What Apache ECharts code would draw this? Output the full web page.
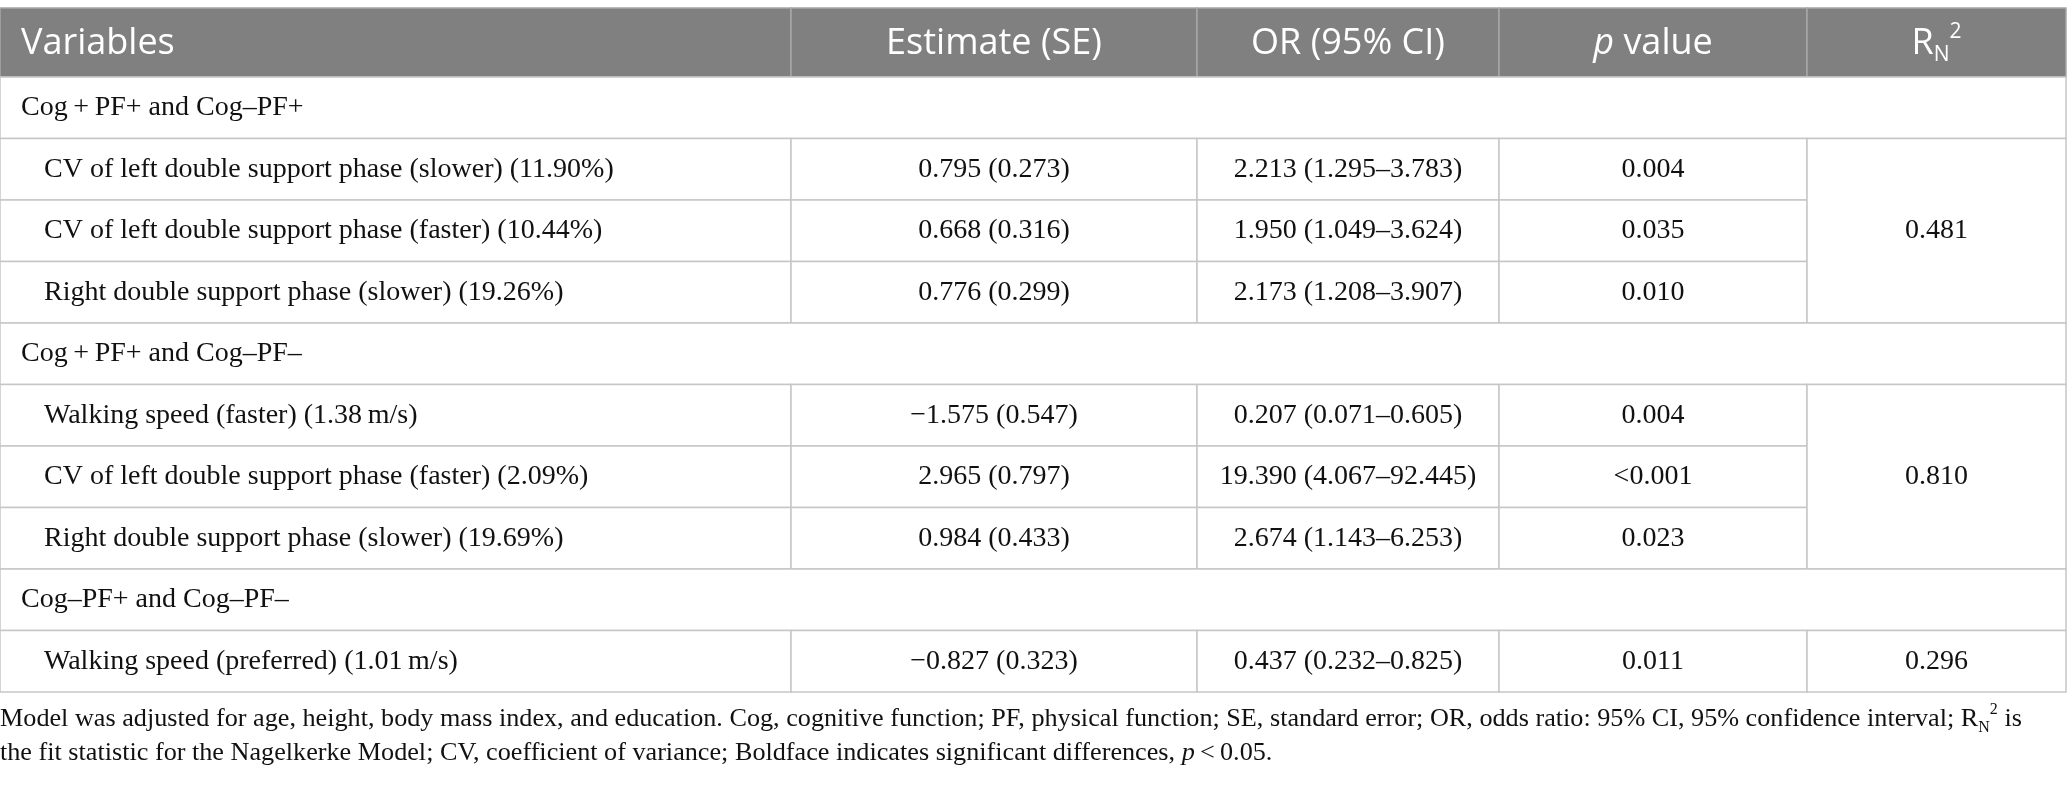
<!DOCTYPE html>
<html>
<head>
<meta charset="utf-8">
<script src="https://cdn.jsdelivr.net/npm/echarts@6/dist/echarts.min.js"></script>
<style>
  html, body { margin: 0; padding: 0; background: #fff; }
  #main { width: 2067px; height: 786px; }
</style>
</head>
<body>
<div id="main"></div>
<script>
// table content
var headerLabels = ['Variables', 'Estimate (SE)', 'OR (95% CI)', '{i|p} value', '{r|R}{sub|N}{sup|2}'];
var groupNames = ['Cog\u2009+\u2009PF+ and Cog\u2013PF+', 'Cog\u2009+\u2009PF+ and Cog\u2013PF\u2013', 'Cog\u2013PF+ and Cog\u2013PF\u2013'];
var variableNames = [
  'CV of left double support phase (slower) (11.90%)',
  'CV of left double support phase (faster) (10.44%)',
  'Right double support phase (slower) (19.26%)',
  'Walking speed (faster) (1.38\u2009m/s)',
  'CV of left double support phase (faster) (2.09%)',
  'Right double support phase (slower) (19.69%)',
  'Walking speed (preferred) (1.01\u2009m/s)'
];
var variableGroup = [0, 0, 0, 1, 1, 1, 2];
var estimateSE = ['0.795 (0.273)', '0.668 (0.316)', '0.776 (0.299)', '\u22121.575 (0.547)', '2.965 (0.797)', '0.984 (0.433)', '\u22120.827 (0.323)'];
var oddsRatioCI = ['2.213 (1.295\u20133.783)', '1.950 (1.049\u20133.624)', '2.173 (1.208\u20133.907)', '0.207 (0.071\u20130.605)', '19.390 (4.067\u201392.445)', '2.674 (1.143\u20136.253)', '0.437 (0.232\u20130.825)'];
var pValues = ['0.004', '0.035', '0.010', '0.004', '<0.001', '0.023', '0.011'];
var nagelkerkeR2 = ['0.481', '0.810', '0.296'];
var footnote = 'Model was adjusted for age, height, body mass index, and education. Cog, cognitive function; PF, physical function; SE, standard error; OR, odds ratio: 95% CI, 95% confidence interval; R{sub|N}{sup|2} is\n' +
  'the fit statistic for the Nagelkerke Model; CV, coefficient of variance; Boldface indicates significant differences, {i|p}\u2009<\u20090.05.';

// layout
var colEdges = [0, 791, 1197, 1499, 1807, 2066];
var serif = '"Liberation Serif", "DejaVu Serif", serif';
var sans = '"Open Sans", "Noto Sans", sans-serif';

// header cells: [c0, c1, r0, r1]
var headerCells = headerLabels.map(function (t, i) {
  return { value: [i, i + 1, 0, 1], text: t, align: i === 0 ? 'left' : 'center', indent: 21 };
});

// body cells
var bodyCells = [];
var row = 0;
groupNames.forEach(function (g, gi) {
  bodyCells.push({ value: [0, 5, row, row + 1], text: g, align: 'left', indent: 21 });
  row++;
  var start = row;
  variableNames.forEach(function (v, vi) {
    if (variableGroup[vi] !== gi) return;
    bodyCells.push({ value: [0, 1, row, row + 1], text: v, align: 'left', indent: 44 });
    bodyCells.push({ value: [1, 2, row, row + 1], text: estimateSE[vi], align: 'center' });
    bodyCells.push({ value: [2, 3, row, row + 1], text: oddsRatioCI[vi], align: 'center' });
    bodyCells.push({ value: [3, 4, row, row + 1], text: pValues[vi], align: 'center' });
    row++;
  });
  bodyCells.push({ value: [4, 5, start, row], text: nagelkerkeR2[gi], align: 'center' });
});
var rowCount = row;

function cellRenderer(cells, isHeader) {
  return function (params, api) {
    var c = cells[params.dataIndex];
    var p0 = api.coord([colEdges[c.value[0]], c.value[2]]);
    var p1 = api.coord([colEdges[c.value[1]], c.value[3]]);
    var x = Math.min(p0[0], p1[0]), y = Math.min(p0[1], p1[1]);
    var w = Math.abs(p1[0] - p0[0]), h = Math.abs(p1[1] - p0[1]);
    var tx = c.align === 'left' ? x + c.indent : x + w / 2;
    return {
      type: 'group',
      children: [{
        type: 'rect',
        shape: { x: x, y: y, width: w, height: h },
        style: {
          fill: isHeader ? '#808080' : '#fff',
          stroke: isHeader ? '#a6a6a6' : '#c6c6c6',
          lineWidth: 1.5
        }
      }, {
        type: 'text',
        style: {
          text: c.text,
          x: tx,
          y: y + h / 2 + (isHeader ? 1 : 0),
          align: c.align,
          verticalAlign: 'middle',
          fill: isHeader ? '#fff' : '#111',
          fontFamily: isHeader ? sans : serif,
          fontSize: isHeader ? 36 : 28,
          rich: isHeader ? {
            i: { fontStyle: 'italic', fontFamily: sans, fontSize: 36, fill: '#fff' },
            r: { fontFamily: sans, fontSize: 36, fill: '#fff', lineHeight: 44 },
            sub: { fontFamily: sans, fontSize: 21, fill: '#fff', lineHeight: 44, verticalAlign: 'bottom', padding: [16, 0, 0, 0] },
            sup: { fontFamily: sans, fontSize: 21, fill: '#fff', lineHeight: 44, verticalAlign: 'top', padding: [0, 0, 16, 0] }
          } : null
        }
      }]
    };
  };
}

var chart = echarts.init(document.getElementById('main'));
chart.setOption({
  backgroundColor: '#fff',
  animation: false,
  title: {
    text: footnote,
    left: 0,
    top: 702,
    padding: 0,
    textStyle: {
      fontFamily: serif,
      fontSize: 26.2,
      fontWeight: 'normal',
      color: '#111',
      lineHeight: 34,
      rich: {
        i: { fontStyle: 'italic', fontFamily: serif, fontSize: 26.2, color: '#111', lineHeight: 34 },
        sub: { fontFamily: serif, fontSize: 16, color: '#111', lineHeight: 34, verticalAlign: 'bottom', padding: [10, 0, 0, 0] },
        sup: { fontFamily: serif, fontSize: 16, color: '#111', lineHeight: 34, verticalAlign: 'top', padding: [0, 0, 8, 0] }
      }
    }
  },
  grid: [
    { left: 0, width: 2067, top: 8, height: 69 },
    { left: 0, width: 2067, top: 77, height: 615 }
  ],
  xAxis: [
    { gridIndex: 0, type: 'value', min: 0, max: 2067, show: false },
    { gridIndex: 1, type: 'value', min: 0, max: 2067, show: false }
  ],
  yAxis: [
    { gridIndex: 0, type: 'value', min: 0, max: 1, inverse: true, show: false },
    { gridIndex: 1, type: 'value', min: 0, max: rowCount, inverse: true, show: false }
  ],
  series: [{
    type: 'custom',
    xAxisIndex: 0,
    yAxisIndex: 0,
    silent: true,
    renderItem: cellRenderer(headerCells, true),
    data: headerCells.map(function (c) { return c.value; })
  }, {
    type: 'custom',
    xAxisIndex: 1,
    yAxisIndex: 1,
    silent: true,
    renderItem: cellRenderer(bodyCells, false),
    data: bodyCells.map(function (c) { return c.value; })
  }]
});
</script>
</body>
</html>
